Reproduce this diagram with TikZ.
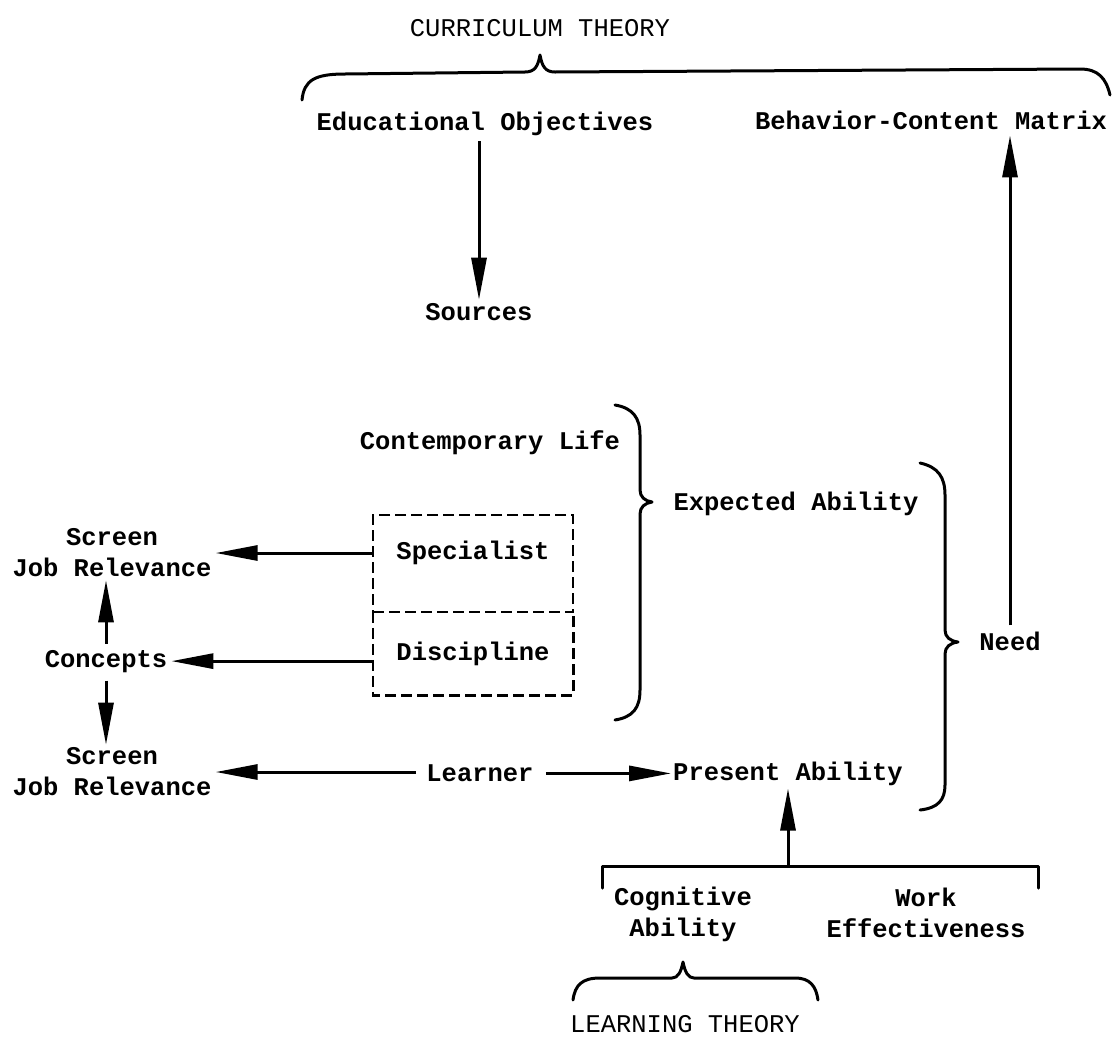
\documentclass[tikz,border=0pt]{standalone}
\usepackage{fontspec}
\usetikzlibrary{positioning,arrows.meta,calc}
\newfontfamily\typew{Liberation Mono}
\newfontfamily\typewb{Liberation Mono Bold}

\begin{document}
\begin{tikzpicture}[
        x=1pt, y=-1pt,
        >=Triangle,
        arrow/.style={-{Triangle[length=42pt,width=15pt]}, line width=3pt, draw=black},
        lbl/.style={inner sep=0pt, font=\typewb\fontsize{25.5}{31}\selectfont, align=center},
        ttl/.style={inner sep=0pt, font=\typew\fontsize{25.5}{31}\selectfont},
        dline/.style={dash pattern=on 11pt off 5pt, line width=2.6pt},
        dbox/.style={minimum width=200pt, inner sep=0pt, font=\typewb\fontsize{25.5}{31}\selectfont},
        curl/.style={line width=3pt, line cap=round, line join=round}
    ]
    \useasboundingbox (0,0) rectangle (1113,1039);

    % Step 1: curriculum theory at the top
    \node[ttl, anchor=base] (ct) at (540,36) {CURRICULUM THEORY};
    \draw[curl] (302,100) .. controls (304,80) and (315,74) .. (345,74)
        -- (525,72) .. controls (535,72) and (538,66) .. (540,55)
        .. controls (542,66) and (545,72) .. (555,72)
        -- (1080,69) .. controls (1098,69) and (1106,78) .. (1110,95);

    \node[lbl, anchor=base] (eo) at (485,130) {Educational Objectives};
    \node[lbl, anchor=base] (bcm) at (931,129) {Behavior-Content Matrix};
    \node[lbl, anchor=base] (src) at (479,320) {Sources};

    \draw[arrow, shorten <=6pt, shorten >=3pt] (src.north |- eo.south) -- (src.north);

    % Step 2: sources of objectives
    \node[lbl, anchor=base] (cl) at (490,449) {Contemporary Life};
    \node[dbox, draw, dline, anchor=base, text height=44pt, text depth=53pt] (spec) at (473,559) {Specialist};
    \node[dbox, anchor=base, text height=48pt, text depth=35pt] (disc) at (473,660) {Discipline};
    \draw[dline] (disc.north west) -- (disc.south west) -- (disc.south east) -- (disc.north east);

    \draw[curl] (615,405) .. controls (633,408) and (640,418) .. (640,435)
        -- (640,490) .. controls (640,497) and (645,501) .. (652,502)
        .. controls (645,503) and (640,507) .. (640,514)
        -- (640,690) .. controls (640,708) and (633,717) .. (615,720);

    \node[lbl, anchor=base] (ea) at (796,510) {Expected Ability};

    % Step 3: screens on the left
    \node[lbl] (scr1) at (112,553) {Screen\\Job Relevance};
    \node[lbl, anchor=base] (con) at (106,667) {Concepts};
    \node[lbl] (scr2) at (112,772) {Screen\\Job Relevance};

    \draw[arrow, shorten >=4pt] (scr1.east -| spec.west) -- (scr1.east);
    \draw[arrow, shorten >=4pt] (con.east -| disc.west) -- (con.east);
    \draw[arrow, shorten <=6pt, shorten >=3pt] (con.north) -- (con.north |- scr1.south);
    \draw[arrow, shorten <=8pt, shorten >=3pt] (con.south) -- (con.south |- scr2.north);

    % Step 4: learner and present ability
    \node[lbl, anchor=base] (lrn) at (480,781) {Learner};
    \node[lbl, anchor=base] (pa) at (788,780) {Present Ability};

    \draw[arrow, shorten <=10pt, shorten >=4pt] (lrn.west |- scr2.east) -- (scr2.east);
    \draw[arrow, shorten <=12pt, shorten >=2pt] (lrn.east |- pa.west) -- (pa.west);

    \draw[curl] (920,463) .. controls (938,467) and (945,477) .. (945,495)
        -- (945,630) .. controls (945,637) and (950,641) .. (958,642)
        .. controls (950,643) and (945,647) .. (945,654)
        -- (945,785) .. controls (945,800) and (938,808) .. (920,810);

    \node[lbl, anchor=base] (need) at (1010,650) {Need};
    \draw[arrow, shorten <=6pt, shorten >=6pt] (need.north) -- (need.north |- bcm.south);

    % Step 5: learning theory at the bottom
    \coordinate (brk) at (788,866);
    \draw[curl] (602,888) -- (602,866) -- (1038,866) -- (1038,888);
    \draw[arrow, shorten >=3pt] (brk) -- (brk |- pa.south);

    \node[lbl] (cog) at (683,914) {Cognitive\\Ability};
    \node[lbl] (work) at (926,913) {Work\\Effectiveness};

    \draw[curl] (573,1000) .. controls (575,985) and (582,978) .. (600,978)
        -- (672,978) .. controls (678,978) and (681,972) .. (683,962)
        .. controls (685,972) and (688,978) .. (694,978)
        -- (795,978) .. controls (810,978) and (816,986) .. (818,1000);
    \node[ttl, anchor=base] (lt) at (685,1032) {LEARNING THEORY};

\end{tikzpicture}
\end{document}
